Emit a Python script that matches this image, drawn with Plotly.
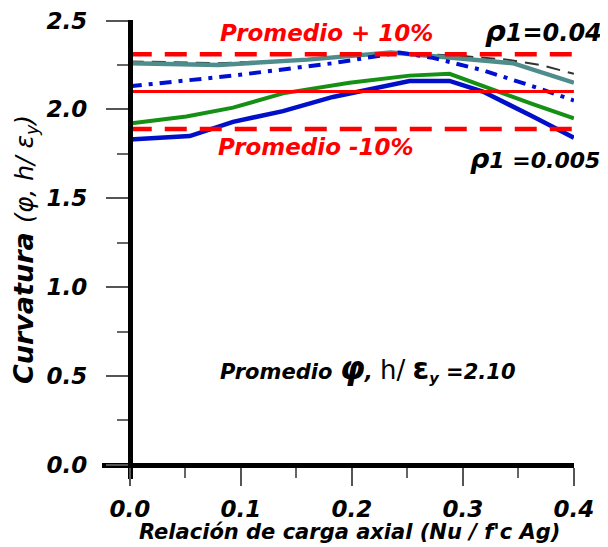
import plotly.graph_objects as go

# ---- data ----
promedio = 2.10
upper = 2.31
lower = 1.89
band_x = [0.0, 0.4]

teal_x = [0.0, 0.08, 0.16, 0.235, 0.29, 0.345, 0.4]
teal_y = [2.26, 2.25, 2.28, 2.32, 2.29, 2.26, 2.15]

black_x = [0.0, 0.08, 0.16, 0.24, 0.30, 0.34, 0.37, 0.4]
black_y = [2.27, 2.26, 2.28, 2.32, 2.30, 2.28, 2.25, 2.20]

dashdot_x = [0.0, 0.093, 0.183, 0.243, 0.273, 0.318, 0.363, 0.4]
dashdot_y = [2.13, 2.19, 2.26, 2.32, 2.29, 2.22, 2.13, 2.05]

green_x = [0.0, 0.051, 0.093, 0.138, 0.198, 0.252, 0.288, 0.318, 0.363, 0.4]
green_y = [1.92, 1.96, 2.01, 2.09, 2.15, 2.19, 2.20, 2.13, 2.03, 1.95]

blue_x = [0.0, 0.054, 0.093, 0.138, 0.183, 0.222, 0.252, 0.288, 0.318, 0.363, 0.4]
blue_y = [1.83, 1.85, 1.93, 1.99, 2.07, 2.12, 2.16, 2.16, 2.10, 1.96, 1.84]

x_ticks = [0.0, 0.1, 0.2, 0.3, 0.4]
x_minor = [0.05, 0.15, 0.25, 0.35]
y_ticks = [0.0, 0.5, 1.0, 1.5, 2.0, 2.5]
y_minor = [0.25, 0.75, 1.25, 1.75, 2.25]

x_title = "Relación de carga axial (Nu / f'c Ag)"

RED = "#ff0000"
FONT = "DejaVu Sans"
fig = go.Figure()

fig.add_trace(go.Scatter(x=black_x, y=black_y, mode="lines",
                         line=dict(color="#333333", width=2, dash="14px,8px")))
fig.add_trace(go.Scatter(x=teal_x, y=teal_y, mode="lines",
                         line=dict(color="#4f8c8c", width=4.5)))
fig.add_trace(go.Scatter(x=dashdot_x, y=dashdot_y, mode="lines",
                         line=dict(color="#0010d0", width=4, dash="12px,7px,4px,7px")))
fig.add_trace(go.Scatter(x=green_x, y=green_y, mode="lines",
                         line=dict(color="#159015", width=4)))
fig.add_trace(go.Scatter(x=blue_x, y=blue_y, mode="lines",
                         line=dict(color="#0010c8", width=4.5)))
fig.add_trace(go.Scatter(x=band_x, y=[promedio, promedio], mode="lines",
                         line=dict(color=RED, width=3)))
fig.add_trace(go.Scatter(x=band_x, y=[upper, upper], mode="lines",
                         line=dict(color=RED, width=4.5, dash="22px,13px")))
fig.add_trace(go.Scatter(x=band_x, y=[lower, lower], mode="lines",
                         line=dict(color=RED, width=4.5, dash="22px,13px")))

tickfont = dict(family=FONT, size=23, color="black", weight="bold", style="italic")
red_font = dict(family=FONT, size=23, color=RED, weight="bold", style="italic")

annotations = [
    dict(x=0.177, y=2.43, text="Promedio + 10%", font=red_font),
    dict(x=0.168, y=1.79, text="Promedio -10%", font=red_font),
    dict(x=0.373, y=2.44, text="<span style='font-size:29px'>ρ</span>1=0.04",
         font=dict(family=FONT, size=24, color="black", weight="bold", style="italic")),
    dict(x=0.365, y=1.725, text="<span style='font-size:27px'>ρ</span>1 =0.005",
         font=dict(family=FONT, size=22, color="black", weight="bold", style="italic")),
    dict(x=0.215, y=0.545,
         text="Promedio <span style='font-size:32px'>φ</span>, "
              "<span style='font-weight:normal;font-style:normal;font-size:26px'>h/</span> "
              "<span style='font-size:30px;font-style:normal'>ε</span><sub>y</sub> =2.10",
         font=dict(family=FONT, size=21, color="black", weight="bold", style="italic")),
]
for a in annotations:
    a.update(xref="x", yref="y", showarrow=False)

annotations.append(dict(
    x=0.198, xref="x", y=-0.1155, yref="paper", yanchor="middle", showarrow=False,
    text=x_title,
    font=dict(family=FONT, size=21, color="black", weight="bold", style="italic")))

fig.update_layout(
    width=600, height=539,
    margin=dict(l=94, r=34, t=12, b=68),
    paper_bgcolor="white", plot_bgcolor="white",
    showlegend=False,
    annotations=annotations,
    xaxis=dict(
        range=[-0.025, 0.4001], anchor="free", position=0.031, automargin=False,
        showline=True, linewidth=5, linecolor="black",
        showgrid=False, zeroline=False, ticklabeloverflow="allow",
        tickvals=x_ticks, tickformat=".1f", ticks="outside", ticklen=18,
        tickwidth=2, tickcolor="#555555", tickfont=tickfont, ticklabelstandoff=4,
        minor=dict(tickvals=x_minor, ticks="outside", ticklen=10, tickwidth=2, tickcolor="#666666"),
    ),
    yaxis=dict(
        range=[-0.08, 2.503], anchor="free", position=0.0588, automargin=False,
        showline=True, linewidth=5, linecolor="black",
        showgrid=False, zeroline=False, ticklabeloverflow="allow",
        tickvals=y_ticks, tickformat=".1f", ticks="outside", ticklen=22,
        tickwidth=2, tickcolor="#555555", tickfont=tickfont, ticklabelstandoff=14,
        minor=dict(tickvals=y_minor, ticks="outside", ticklen=11, tickwidth=2, tickcolor="#666666"),
        title=dict(text="Curvatura <span style='font-weight:normal;font-size:25px'>(φ, h/ ε<sub>y</sub>)</span>",
                   standoff=6,
                   font=dict(family=FONT, size=27, color="black", weight="bold", style="italic")),
    ),
)

fig.write_html("out.html")
